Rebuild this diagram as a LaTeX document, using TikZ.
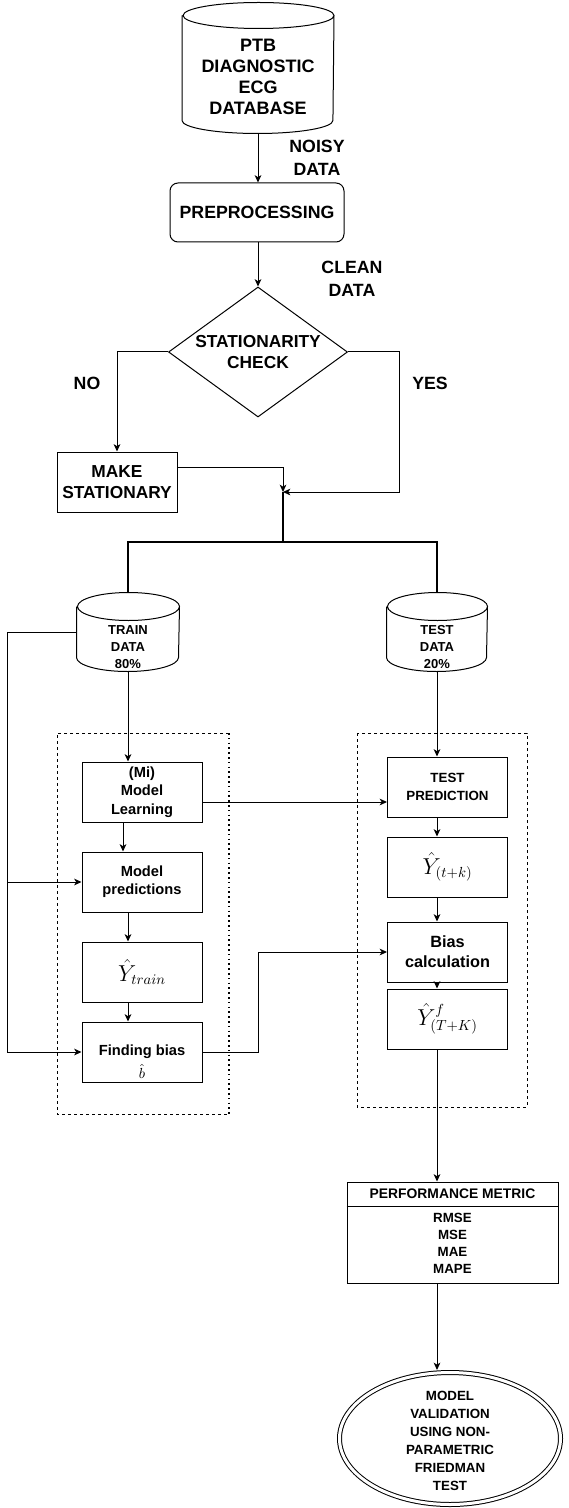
\documentclass[tikz,border=0pt]{standalone}
\usepackage[no-math]{fontspec}
\setmainfont{Liberation Sans}
\usetikzlibrary{shapes.geometric,arrows.meta}

\newcommand{\drum}[3]{%
    \draw ([yshift=-#3]#1.north west) -- ([yshift=#3]#1.south west)
        arc[start angle=180, end angle=360, x radius=#2, y radius=#3]
        -- ([yshift=-#3]#1.north east)
        arc[start angle=0, end angle=360, x radius=#2, y radius=#3];
}

\begin{document}
\begin{tikzpicture}[x=0.75pt, y=-0.75pt, line width=0.75pt,
        >={Stealth[length=5.5pt,width=5pt,inset=1.5pt]},
        box/.style={draw, minimum width=90pt, minimum height=45pt, inner sep=1pt, align=center,
            font=\fontsize{11}{14}\selectfont\bfseries},
        big/.style={align=center, font=\fontsize{13.3}{16}\selectfont\bfseries},
        small/.style={align=center, font=\fontsize{10}{13}\selectfont\bfseries},
        store/.style={inner sep=0pt},
        frame/.style={dash pattern=on 2.25pt off 2.25pt},
        dots/.style={line width=1.2pt, dash pattern=on 1.2pt off 2.4pt},
        trunk/.style={line width=1.5pt}]
            \useasboundingbox (0,0) rectangle (568,1508);

            \node (db) at (258,68)[store, minimum width=113.25pt, minimum height=97.5pt]{};
            \drum{db}{56.6pt}{9.75pt}
            \node (dbtxt) at (258,77)[big, font=\fontsize{13.5}{15.75}\selectfont\bfseries]{PTB\\DIAGNOSTIC\\ECG\\DATABASE};
            \node (pre) at (257,212.5)[box, rounded corners=6pt, minimum width=130.5pt, minimum height=44.25pt, big]{PREPROCESSING};
            \node (chk) at (258,352)[diamond, draw, minimum width=134.25pt, minimum height=97.5pt, aspect=1.38,
                inner sep=0pt, big, font=\fontsize{13}{16}\selectfont\bfseries]{STATIONARITY\\CHECK};
            \node (mks) at (117,482)[box, big, font=\fontsize{13}{16}\selectfont\bfseries]{MAKE\\STATIONARY};

            \node (noisy) at (317,158)[big, font=\fontsize{13.3}{17}\selectfont\bfseries]{NOISY\\DATA};
            \node (clean) at (352,279)[big, font=\fontsize{13.3}{17}\selectfont\bfseries]{CLEAN\\DATA};
            \node (no) at (87,383)[big]{NO};
            \node (yes) at (430,383)[big]{YES};

            \coordinate (join) at (283,492);
            \coordinate (split) at (283,542);
            \coordinate (rail) at (7,1052);

            \node (train) at (128,632)[store, minimum width=76.5pt, minimum height=58.5pt]{};
            \drum{train}{38.25pt}{10.5pt}
            \node (traintxt) at (128,647)[small, font=\fontsize{9.75}{13}\selectfont\bfseries]{TRAIN\\DATA\\80\%};
            \node (test) at (437,632)[store, minimum width=75pt, minimum height=58.5pt]{};
            \drum{test}{37.5pt}{10.5pt}
            \node (testtxt) at (437,647)[small, font=\fontsize{9.75}{13}\selectfont\bfseries]{TEST\\DATA\\20\%};

            \draw[frame] (229,733) -- (57,733) -- (57,1114) -- (229,1114);
            \draw[dots] (229,733) -- (229,1114);
            \draw[frame] (357,733) rectangle (527,1107);

            \node (learn) at (142,792)[box]{(Mi)\\Model\\Learning};
            \node (pred) at (142,882)[box, font=\fontsize{11}{13.5}\selectfont\bfseries]{Model\\predictions};
            \node (ytr) at (142,972)[box, font=\fontsize{16}{18}\selectfont]{$\hat{Y}_{train}$};
            \node (bias) at (142,1052)[box]{};
            \node (biastxt) at (142,1062)[align=center, font=\fontsize{11}{17}\selectfont\bfseries]{Finding bias\\$\hat{b}$};

            \node (tpred) at (447.5,787)[box, small]{TEST\\PREDICTION};
            \node (ytk) at (447.5,867)[box, font=\fontsize{16}{18}\selectfont]{$\hat{Y}_{(t+k)}$};
            \node (bcalc) at (447.5,952)[box, font=\fontsize{12.2}{15}\selectfont\bfseries]{Bias\\calculation};
            \node (yf) at (447.5,1019)[box, font=\fontsize{16}{18}\selectfont]{$\hat{Y}^{f}_{(T+K)}$};

            \node (perf) at (452.5,1232.5)[draw, minimum width=158.25pt, minimum height=75.75pt]{};
            \coordinate (perfcut) at (452.5,1206);
            \node (perfhead) at (452.5,1194)[small, font=\fontsize{10.4}{13}\selectfont\bfseries]{PERFORMANCE METRIC};
            \node (perflist) at (452.5,1243.5)[small, font=\fontsize{10}{12.75}\selectfont\bfseries]{RMSE\\MSE\\MAE\\MAPE};
            \draw (perf.west |- perfcut) -- (perf.east |- perfcut);

            \node (val) at (450,1438.5)[ellipse, draw, double, double distance=2.25pt, outer sep=1.9pt,
                minimum width=165.75pt, minimum height=99pt]{};
            \node (valtxt) at (450,1441)[small, font=\fontsize{10}{13.5}\selectfont\bfseries]{MODEL\\VALIDATION\\USING NON-\\PARAMETRIC\\FRIEDMAN\\TEST};

            \draw[->] (db.south) -- (db.south |- pre.north);
            \draw[->] (chk.north |- pre.south) -- (chk.north);
            \draw[->] (chk.west) -| (mks.north);
            \draw[->] (chk.east) -- ++(51,0) |- (join);
            \draw[->] (mks.east) ++(0,-15) -| (join);
            \draw[trunk] (join) -- (split) (train.north) |- (split) -| (test.north);

            \draw (train.west) -| (rail);
            \draw[->] (rail) -- (bias.west);
            \draw[->] (rail |- pred.west) -- (pred.west);
            \draw[->] (train.south) -- (train.south |- learn.north);
            \draw[->] ([xshift=-14.25pt]learn.south) -- ([xshift=-14.25pt]pred.north);
            \draw[->] (pred.south -| train.south) -- (ytr.north -| train.south);
            \draw[->] (ytr.south -| train.south) -- (bias.north -| train.south);
            \draw[->] ([yshift=-7.5pt]learn.east) -- ([yshift=-7.5pt]learn.east -| tpred.west);
            \draw[->] (bias.east) -- ++(56,0) |- (bcalc.west);

            \draw[->] (test.south) -- (test.south |- tpred.north);
            \draw[->] (tpred.south -| test.south) -- (ytk.north -| test.south);
            \draw[->] (ytk.south -| test.south) -- (bcalc.north -| test.south);
            \draw[->] (bcalc.south -| test.south) -- (yf.north -| test.south);
            \draw[->] (yf.south -| test.south) -- (perf.north -| test.south);
            \draw[->] (perf.south -| test.south) -- (val.north -| test.south);
\end{tikzpicture}
\end{document}
